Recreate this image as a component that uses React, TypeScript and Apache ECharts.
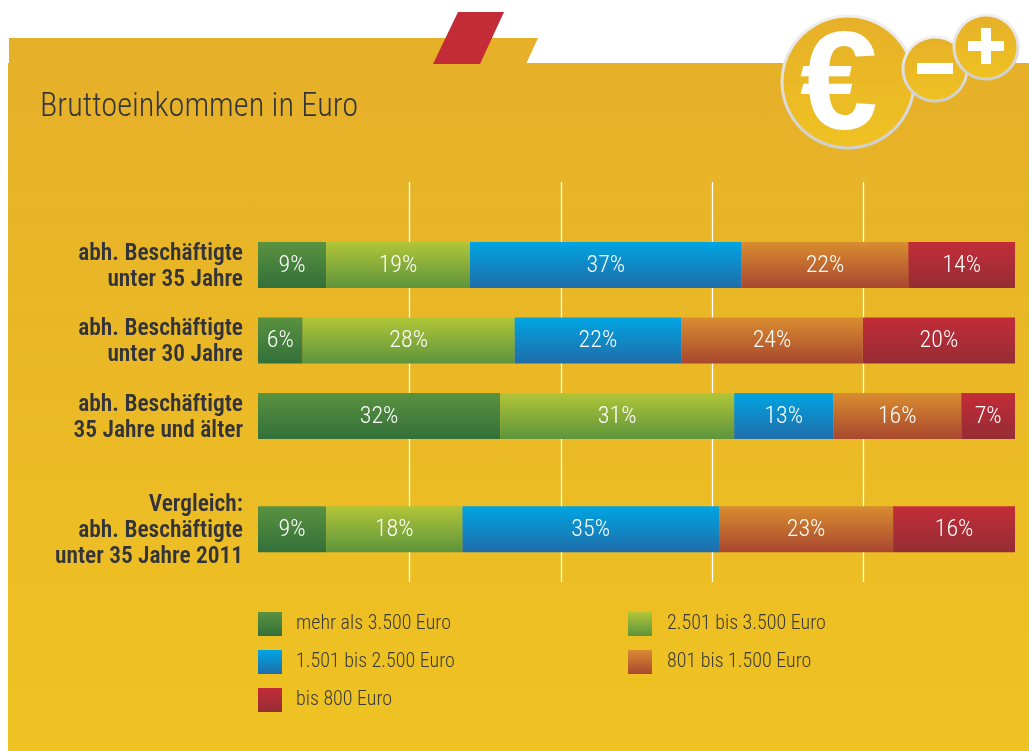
import React, { useEffect, useRef } from "react";
import * as echarts from "echarts";

const FONT = "'Roboto Condensed','Roboto',sans-serif";
const titleText = "Bruttoeinkommen in Euro";
const categories = [
  "abh. Beschäftigte\nunter 35 Jahre",
  "",
  "abh. Beschäftigte\nunter 30 Jahre",
  "",
  "abh. Beschäftigte\n35 Jahre und älter",
  "",
  "",
  "Vergleich:\nabh. Beschäftigte\nunter 35 Jahre 2011",
];
const seriesNames = [
  "mehr als 3.500 Euro",
  "2.501 bis 3.500 Euro",
  "1.501 bis 2.500 Euro",
  "801 bis 1.500 Euro",
  "bis 800 Euro",
];
// Drawn widths (the printed percentages do not always add up to 100)
const over3500 = [9, null, 5.9, null, 32, null, null, 9];
const from2501 = [19, null, 28, null, 30.9, null, null, 18];
const from1501 = [35.9, null, 22, null, 13.1, null, null, 33.9];
const from801 = [22, null, 24, null, 16.9, null, null, 23];
const upTo800 = [14.1, null, 20.1, null, 7.1, null, null, 16.1];
// Printed labels
const over3500Labels = ["9%", "", "6%", "", "32%", "", "", "9%"];
const from2501Labels = ["19%", "", "28%", "", "31%", "", "", "18%"];
const from1501Labels = ["37%", "", "22%", "", "13%", "", "", "35%"];
const from801Labels = ["22%", "", "24%", "", "16%", "", "", "23%"];
const upTo800Labels = ["14%", "", "20%", "", "7%", "", "", "16%"];

const values = [over3500, from2501, from1501, from801, upTo800];
const labels = [over3500Labels, from2501Labels, from1501Labels, from801Labels, upTo800Labels];
const gradients = [
  ["#5A9240", "#33703A"],
  ["#B2C638", "#5D943C"],
  ["#00A5E3", "#1F6DA9"],
  ["#D98D30", "#A8472F"],
  ["#C32C38", "#952D34"],
];

const vGrad = (a: string, b: string) => ({
  type: "linear", x: 0, y: 0, x2: 0, y2: 1,
  colorStops: [{ offset: 0, color: a }, { offset: 1, color: b }],
});

export default function App() {
  const ref = useRef<HTMLDivElement>(null);
  useEffect(() => {
    document.body.style.margin = "0";
    const chart = echarts.init(ref.current!, null, { renderer: "svg" });
    const coin = vGrad("#E6B029", "#EFC222");
    const ring = vGrad("#F0F0F0", "#CFCFCF");
    const legendText = (leftGap: number) => ({
      rich: {
        t: {
          fontFamily: FONT, fontSize: 20, fontWeight: 300, color: "#3A3A3A",
          padding: [0, 0, 4, leftGap],
        },
      },
    });
    chart.setOption({
      animation: false,
      title: {
        text: titleText, left: 40, top: 89, padding: 0,
        textStyle: { fontFamily: FONT, fontSize: 32.4, fontWeight: 300, color: "#33363B" },
      },
      graphic: {
        z: -1,
        elements: [
          { type: "rect", shape: { x: 8, y: 63, width: 1021, height: 688 }, style: { fill: vGrad("#E6B029", "#EFC322") } },
          { type: "polygon", shape: { points: [[9, 38], [538, 38], [526, 64], [9, 64]] }, style: { fill: "#E6B029" } },
          { type: "polygon", shape: { points: [[458, 12], [504, 12], [480, 64], [433, 64]] }, style: { fill: "#C32B36" } },
          { type: "circle", shape: { cx: 848, cy: 82, r: 66 }, style: { fill: coin, stroke: ring, lineWidth: 3 } },
          { type: "text", x: 839, y: 80, style: { text: "€", fontFamily: "'Liberation Sans',sans-serif", fontWeight: "bold", fontSize: 140, fill: "#fff", align: "center", verticalAlign: "middle" } },
          { type: "circle", shape: { cx: 935, cy: 69, r: 32 }, style: { fill: coin, stroke: ring, lineWidth: 3 } },
          { type: "rect", shape: { x: 917, y: 63, width: 36, height: 11 }, style: { fill: "#fff" } },
          { type: "circle", shape: { cx: 986, cy: 47, r: 32 }, style: { fill: coin, stroke: ring, lineWidth: 3 } },
          { type: "rect", shape: { x: 968, y: 41, width: 36, height: 10 }, style: { fill: "#fff" } },
          { type: "rect", shape: { x: 981, y: 28, width: 10, height: 36 }, style: { fill: "#fff" } },
        ],
      },
      legend: [
        {
          left: 258, top: 612, padding: 0, orient: "vertical", itemWidth: 24, itemHeight: 24, itemGap: 14, icon: "rect",
          data: [seriesNames[0], seriesNames[2], seriesNames[4]],
          selectedMode: false,
          formatter: (n: string) => `{t|${n}}`,
          textStyle: legendText(9),
        },
        {
          left: 628, top: 612, padding: 0, orient: "vertical", itemWidth: 24, itemHeight: 24, itemGap: 14, icon: "rect",
          data: [seriesNames[1], seriesNames[3]],
          selectedMode: false,
          formatter: (n: string) => `{t|${n}}`,
          textStyle: legendText(10),
        },
      ],
      grid: [
        { left: 258, top: 246, width: 757, height: 302 },
        { left: 258, top: 182, width: 757, height: 400 },
      ],
      xAxis: [
        { type: "value", gridIndex: 0, min: 0, max: 100, show: false },
        {
          type: "value", gridIndex: 1, min: 0, max: 100, interval: 20,
          axisLine: { show: false }, axisTick: { show: false }, axisLabel: { show: false },
          splitLine: { show: true, showMinLine: false, showMaxLine: false, lineStyle: { color: "#FFFFFF", width: 1.3 } },
        },
      ],
      yAxis: [
        {
          type: "category", gridIndex: 0, inverse: true, data: categories,
          axisLine: { show: false }, axisTick: { show: false },
          axisLabel: {
            interval: 0, margin: 15, align: "right", lineHeight: 26,
            padding: [0, 0, 2, 0],
            fontFamily: FONT, fontSize: 23.4, fontWeight: 600, color: "#33333A",
          },
        },
        { type: "value", gridIndex: 1, min: 0, max: 1, show: false },
      ],
      series: seriesNames.map((name, i) => ({
        name,
        type: "bar",
        stack: "total",
        xAxisIndex: 0,
        yAxisIndex: 0,
        barWidth: 46,
        clip: false,
        data: values[i],
        itemStyle: { color: vGrad(gradients[i][0], gradients[i][1]) },
        label: {
          show: true, position: "inside", offset: [0, -1], color: "#FFFFFF",
          fontFamily: FONT, fontSize: 24, fontWeight: 300,
          formatter: (p: any) => labels[i][p.dataIndex],
        },
      })),
    });
    return () => chart.dispose();
  }, []);
  return <div ref={ref} style={{ position: "fixed", left: 0, top: 0, width: 1029, height: 751 }} />;
}
